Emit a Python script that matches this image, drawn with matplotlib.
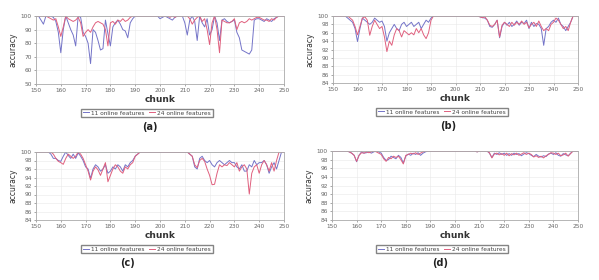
import matplotlib
matplotlib.use("Agg")
import matplotlib.pyplot as plt
import numpy as np

chunks = list(range(150, 251))

a_11 = [100,100,97,94,100,100,100,99,96,88,
        73,90,100,95,90,86,78,100,99,88,
        85,80,65,90,88,82,75,76,97,87,
        78,92,95,97,94,90,89,84,95,98,
        100,100,100,100,100,100,100,100,100,100,
        98,99,100,99,98,97,99,100,100,100,
        95,86,97,100,96,82,100,95,92,98,
        86,90,100,95,82,97,98,96,95,96,
        97,88,84,75,74,73,72,75,97,98,
        98,97,96,98,97,96,98,99,100,100,
        100]
a_24 = [100,100,100,100,100,99,98,97,98,92,
        85,92,100,98,97,96,97,99,95,85,
        88,90,88,92,95,96,95,94,90,78,
        95,96,94,97,96,98,96,97,99,100,
        100,100,100,100,100,100,100,100,100,100,
        100,100,100,100,99,100,99,100,100,100,
        100,100,98,94,97,99,100,96,98,90,
        79,95,100,90,73,97,96,95,95,96,
        98,90,95,96,95,96,98,97,98,99,
        99,98,97,97,96,98,97,99,100,100,
        100]

b_11 = [100,100,100,100,100,100,99.5,99,98.5,97,
        93.9,97,99.5,99,98.5,98,98.5,99.5,99,98.5,
        98.8,97.5,94,96,97,98,97,96.5,98,98.5,
        97.5,98,98.5,97.5,98,98.5,97,98,99,98.5,
        99.5,100,100,100,100,100,100,100,100,100,
        100,100,100,100,100,100,100,100,100,100,
        99.8,99.6,99.5,99,97.5,97.3,98,99,94.8,97.5,
        98.5,97.8,98.5,97.5,98,98.8,97.8,98.5,98.2,99,
        97,98.5,97.5,98.2,98,97,93,97,97.5,98.5,
        99,98.5,99.5,98,97.5,96.5,97.5,98.5,100,100,
        100]
b_24 = [100,100,100,100,100,100,100,99.5,99,97.5,
        95.5,97.5,99.5,99.8,99,95.4,97.5,99,98,97,
        97.5,95,91.5,94,93,95.5,97,96.5,95,96.5,
        96,95.5,96,95.5,97,96,97,95.5,94.6,96,
        99,100,100,100,100,100,100,100,100,100,
        100,100,100,100,100,100,100,100,100,100,
        99.8,99.6,99.8,99,97.8,97.5,98,99,95,97.8,
        98.5,98,97.5,98.5,97.8,98.5,98,98.8,98,98.5,
        97.2,98,98.5,97.5,98.8,97.5,96.5,97,96.5,98,
        98.5,99.5,99,98,97,97.5,96.5,98.5,100,100,
        100]

c_11 = [100,100,100,100,100,100,99.5,98.5,98.5,98,
        97.8,99,100,99.2,98.5,99.5,98.5,99.8,99,98,
        96.5,96,93.8,96,97,96.5,95.5,96,97,95,
        95.5,96.5,96,97,96.5,95.5,97,96.5,97.5,98,
        99,99.5,100,100,100,100,100,100,100,100,
        100,100,100,100,100,100,100,100,100,100,
        100,100,99.5,99,96.5,96,98.5,99,98,97.5,
        98,97,96.5,97.5,98,97.5,97,97.5,98,97.5,
        97.5,96.5,96,97,95.5,95.5,97,96.5,98,97,
        97.5,97.5,98,97,95,96.5,97.5,96,98,100,
        100]
c_24 = [100,100,100,100,100,100,100,99.5,98.5,97.8,
        97.5,97.1,98.5,99.5,99,98.5,99,100,99.5,98.5,
        97,95.5,93.4,95.5,96.5,95.8,94.5,96,97.5,93,
        94.5,96,97,96.5,95.5,95,96.5,96,97,97.5,
        99,99.5,100,100,100,100,100,100,100,100,
        100,100,100,100,100,100,100,100,100,100,
        100,100,99.5,99,97,96.3,98,98.5,97.8,96,
        94.5,92.3,92.4,95,97,96.5,97,96.8,97.5,97,
        96.5,97.5,95.5,96.5,97,96,90.1,95,96.5,97,
        95,97,98,97,95.5,97.5,95.5,98,100,100,
        100]

d_11 = [100,100,100,100,100,100,100,99.8,99.5,99,
        97.5,99,99.8,99.5,99.6,99.8,99.5,99.8,100,99.8,
        99.5,98.5,97.8,98,98.8,98.5,98.2,99,98.5,97.2,
        98.8,99.3,99,99.5,99.2,99.6,99,99.5,99.8,100,
        100,100,100,100,100,100,100,100,100,100,
        100,100,100,100,100,100,100,100,100,99.8,
        100,100,100,100,99.5,98.5,99.5,99.2,99.6,99.2,
        99.5,99,99.4,99,99.5,99.2,99.4,98.9,99.3,99.6,
        99.4,99,98.7,99.2,98.8,98.6,98.9,98.7,99.3,99.5,
        99.2,99.6,99,98.8,99.4,99.1,98.9,99.5,100,100,
        100]
d_24 = [100,100,100,100,100,100,100,99.8,99.5,99,
        97.6,99,99.6,99.5,99.8,99.6,99.8,100,99.8,99.5,
        99.2,98.2,97.6,98.5,98.2,98.8,98.5,98.8,98,97,
        99,99.2,99.5,99.3,99.6,99.2,99.5,99.8,100,100,
        100,100,100,100,100,100,100,100,100,100,
        100,100,100,100,100,100,100,100,100,99.8,
        100,100,100,100,99.6,98.4,99.3,99.5,99.1,99.4,
        99,99.5,98.9,99.4,99.1,99.5,99,99.3,99.6,99.2,
        99.5,99.2,98.6,98.9,98.5,98.8,98.4,98.9,99.2,99.6,
        99.5,99.2,99.5,98.9,99.1,99.5,98.8,99.4,100,100,
        100]

panels = [("(a)", a_11, a_24, (50, 100), list(range(50, 101, 10))),
          ("(b)", b_11, b_24, (84, 100), list(range(84, 101, 2))),
          ("(c)", c_11, c_24, (84, 100), list(range(84, 101, 2))),
          ("(d)", d_11, d_24, (84, 100), list(range(84, 101, 2)))]
xticks = list(range(150, 251, 10))
labels = ["11 online features", "24 online features"]

W, H = 599, 280
fig = plt.figure(figsize=(W / 100, H / 100), dpi=100)

# pixel boxes: left, top, right, bottom
boxes = [(36, 16, 284, 84), (333, 16, 578, 83), (36, 152, 284, 220), (332, 151, 578, 220)]
leg_cx = [147, 442, 147, 442]
lab_cx = [150, 448, 127, 440]

c11 = "#7474c8"
c24 = "#e0607e"

for i, (name, s11, s24, ylim, yt) in enumerate(panels):
    l, t, r, b = boxes[i]
    ax = fig.add_axes([l / W, 1 - b / H, (r - l) / W, (b - t) / H])
    ax.plot(chunks, s11, color=c11, lw=0.7, label=labels[0])
    ax.plot(chunks, s24, color=c24, lw=0.7, label=labels[1])
    ax.set_xlim(150, 250)
    ax.set_ylim(*ylim)
    ax.set_xticks(xticks)
    ax.set_yticks(yt)
    ax.tick_params(labelsize=4.2, length=1.5, width=0.4, pad=1.5, colors="#666666")
    ax.grid(True, color="#e8e8e8", lw=0.4)
    for sp in ax.spines.values():
        sp.set_color("#aaaaaa")
        sp.set_linewidth(0.6)
    ax.set_xlabel("chunk", fontsize=6.5, color="#333333", labelpad=1, fontweight="semibold")
    ax.set_ylabel("accuracy", fontsize=5.5, color="#333333", labelpad=2)
    handles, labs = ax.get_legend_handles_labels()
    leg = fig.legend(handles, labs, loc="center", bbox_to_anchor=(leg_cx[i] / W, 1 - (b + 29) / H),
                     ncol=2, fontsize=4.2, frameon=True, fancybox=False, edgecolor="#666666",
                     handlelength=1.0, handletextpad=0.4, columnspacing=0.8, borderpad=0.3,
                     borderaxespad=0)
    for tx in leg.get_texts():
        tx.set_color("#444444")
    fig.text(lab_cx[i] / W, 1 - (b + 43) / H, name, ha="center", va="center",
             fontsize=7, fontweight="semibold", color="#222222")

fig.savefig("out.png", dpi=100, facecolor="white")
